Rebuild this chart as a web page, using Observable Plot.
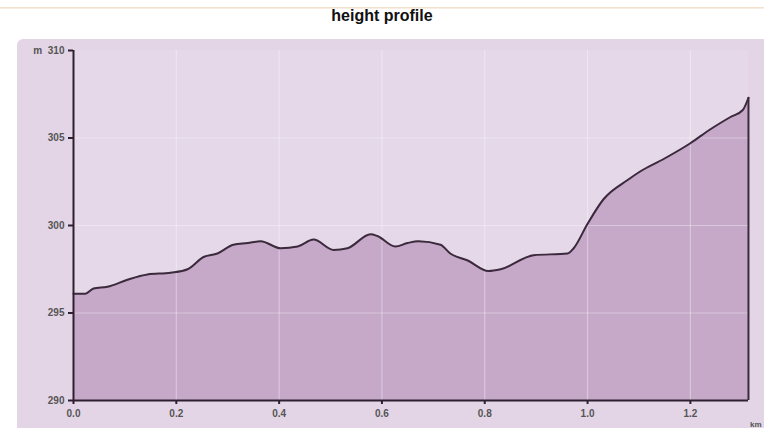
<!DOCTYPE html>
<html>
<head>
<meta charset="utf-8">
<script src="https://cdn.jsdelivr.net/npm/d3@7"></script>
<script src="https://cdn.jsdelivr.net/npm/@observablehq/plot@0.6"></script>
<style>
  html, body { margin: 0; padding: 0; background: #ffffff; width: 764px; height: 428px; overflow: hidden; }
  #topline { position: absolute; left: 0; top: 7px; width: 764px; height: 2px; background: linear-gradient(#f1dcc4, #fbf3ea); }
  #title { position: absolute; left: 0; top: 7px; width: 764px; text-align: center; font-family: "Liberation Sans", Arial, sans-serif; font-weight: bold; font-size: 16px; color: #111; }
  #panel { position: absolute; left: 17px; top: 39px; width: 760px; height: 400px; background: #e3d5e6; border-radius: 6px; }
  #chart { position: absolute; left: 0; top: 38px; }
  #chart svg { background: transparent; overflow: visible; }
</style>
</head>
<body>
<div id="topline"></div>
<div id="title">height profile</div>
<div id="panel"></div>
<div id="chart"></div>
<script>
// distance along route (km)
const distanceKm = [0.000, 0.023, 0.039, 0.066, 0.105, 0.144, 0.189, 0.222, 0.253, 0.280,
  0.311, 0.339, 0.364, 0.403, 0.436, 0.467, 0.506, 0.533, 0.578, 0.591,
  0.626, 0.650, 0.671, 0.714, 0.733, 0.767, 0.807, 0.831, 0.895, 0.961,
  0.973, 1.000, 1.031, 1.078, 1.103, 1.148, 1.200, 1.239, 1.278, 1.302, 1.313];
// elevation (m)
const elevationM = [296.1, 296.1, 296.4, 296.5, 296.9, 297.2, 297.3, 297.5, 298.2, 298.4,
  298.9, 299.0, 299.1, 298.7, 298.8, 299.2, 298.6, 298.7, 299.5, 299.4,
  298.8, 299.0, 299.1, 298.9, 298.4, 298.0, 297.4, 297.5, 298.3, 298.4,
  298.7, 300.1, 301.5, 302.6, 303.1, 303.8, 304.7, 305.5, 306.2, 306.6, 307.3];
const xTicks = [0, 0.2, 0.4, 0.6, 0.8, 1.0, 1.2];
const yTicks = [290, 295, 300, 305, 310];
const xDomain = [0, 1.315];
const yDomain = [290, 310];

const data = distanceKm.map((d, i) => ({km: d, m: elevationM[i]}));
const last = data[data.length - 1];

const chart = Plot.plot({
  width: 764,
  height: 390,
  marginLeft: 73,
  marginRight: 15,
  marginTop: 12,
  marginBottom: 28,
  style: {background: "transparent", fontFamily: "'Liberation Sans', Arial, sans-serif", fontSize: "10px", color: "#444"},
  x: {domain: xDomain, ticks: xTicks, label: null},
  y: {domain: yDomain, ticks: yTicks, label: null},
  marks: [
    Plot.rect([0], {x1: xDomain[0], x2: last.km, y1: yDomain[0], y2: yDomain[1], fill: "#e5d8e8"}),
    Plot.areaY(data, {x: "km", y1: yDomain[0], y2: "m", fill: "#c6a9c9", curve: "monotone-x"}),
    Plot.gridX(xTicks.filter(t => t > 0), {stroke: "#ffffff", strokeOpacity: 0.35, strokeWidth: 1.2}),
    Plot.gridY(yTicks.filter(t => t > 290 && t < 310), {stroke: "#ffffff", strokeOpacity: 0.35, strokeWidth: 1.2}),
    Plot.line(data, {x: "km", y: "m", stroke: "#3b2a3c", strokeWidth: 2, curve: "monotone-x"}),
    Plot.ruleX([last], {x: "km", y1: yDomain[0], y2: "m", stroke: "#3b2a3c", strokeWidth: 2}),
    Plot.ruleX([0], {y1: yDomain[0], y2: yDomain[1], stroke: "#2e2030", strokeWidth: 2}),
    Plot.ruleY([yDomain[0]], {x1: 0, x2: last.km, stroke: "#2e2030", strokeWidth: 2}),
    Plot.axisX({ticks: xTicks, tickFormat: d3.format(".1f"), tickSize: 4, stroke: "#2e2030", strokeWidth: 2, fontWeight: "bold", fill: "#555", fontSize: 10, label: null}),
    Plot.axisY({ticks: yTicks, tickFormat: d => d === 310 ? "m  310" : String(d), tickSize: 5, stroke: "#2e2030", strokeWidth: 2, fontWeight: "bold", fill: "#555", fontSize: 10, label: null}),
    Plot.text(["km"], {frameAnchor: "bottom-right", dx: 12, dy: 26, fontSize: 8, fontWeight: "bold", fill: "#555"})
  ]
});
document.getElementById("chart").appendChild(chart);
</script>
</body>
</html>
